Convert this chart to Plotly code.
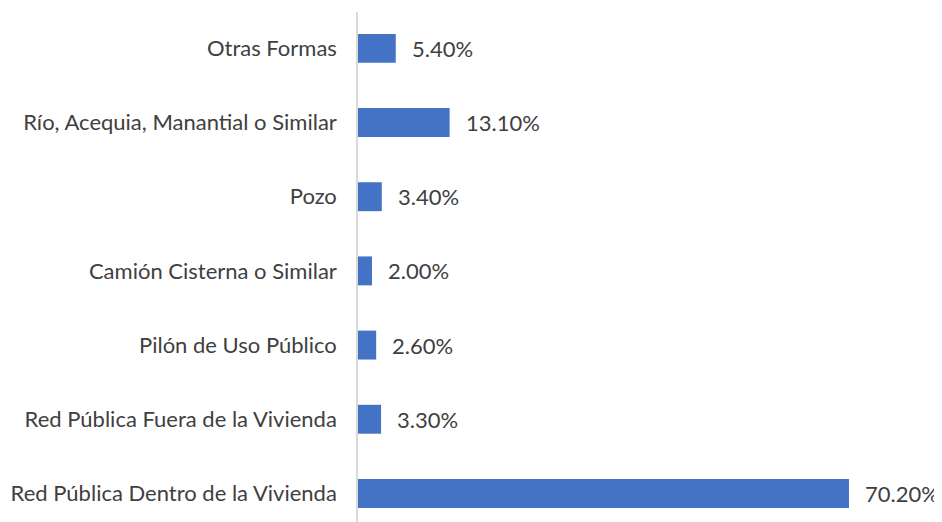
import plotly.graph_objects as go

categories = [
    "Red Pública Dentro de la Vivienda",
    "Red Pública Fuera de la Vivienda",
    "Pilón de Uso Público",
    "Camión Cisterna o Similar",
    "Pozo",
    "Río, Acequia, Manantial o Similar",
    "Otras Formas",
]
values = [70.2, 3.3, 2.6, 2.0, 3.4, 13.1, 5.4]
labels = [f"{v:.2f}%" for v in values]

FONT = "Lato"
TEXT_COLOR = "#404040"
SIZE = 22

fig = go.Figure()
fig.add_trace(go.Bar(
    y=categories,
    x=values,
    orientation="h",
    marker=dict(color="#4472C4", line=dict(width=0)),
    width=0.39,
    hoverinfo="skip",
))

# value labels a little to the right of each bar end
for cat, val, lab in zip(categories, values, labels):
    fig.add_annotation(
        x=val, y=cat, text=lab,
        xanchor="left", yanchor="middle",
        xshift=14, showarrow=False,
        font=dict(family=FONT, size=SIZE, color=TEXT_COLOR),
    )

# page body has an 8px margin, so the margins below are offset by that
fig.update_layout(
    width=942,
    height=522,
    margin=dict(l=350, r=8, t=4, b=8, autoexpand=False),
    paper_bgcolor="white",
    plot_bgcolor="white",
    showlegend=False,
    font=dict(family=FONT, size=SIZE, color=TEXT_COLOR),
)
fig.update_xaxes(
    range=[0, 83.5],
    showgrid=False,
    zeroline=False,
    showticklabels=False,
    showline=False,
    automargin=False,
)
fig.update_yaxes(
    range=[-0.385, 6.49],
    showgrid=False,
    zeroline=False,
    showline=True,
    linecolor="#D9D9D9",
    linewidth=1.5,
    ticks="outside",
    ticklen=0,
    ticklabelstandoff=15,
    automargin=False,
    tickfont=dict(family=FONT, size=SIZE, color=TEXT_COLOR),
)

fig.write_html("out.html")
